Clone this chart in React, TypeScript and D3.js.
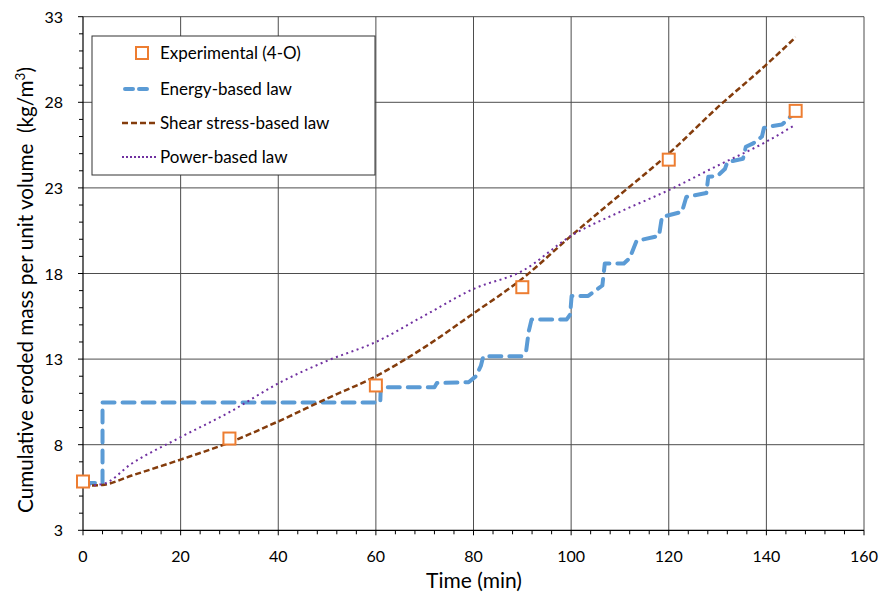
import React from "react";
import * as d3 from "d3";

const expTime = [0, 30, 60, 90, 120, 146];
const expMass = [5.85, 8.36, 11.46, 17.2, 24.65, 27.5];

const shearTime = [0, 4, 10, 20, 30, 40, 50, 60, 70, 80, 90, 100, 110, 120, 130, 140, 146];
const shearMass = [5.6, 5.65, 6.2, 7.13, 8.13, 9.36, 10.7, 12.0, 13.7, 15.67, 17.7, 20.2, 22.6, 25.0, 27.7, 30.2, 31.8];

const powerTime = [0, 4, 10, 20, 30, 40, 50, 60, 70, 80, 90, 100, 110, 120, 130, 140, 146];
const powerMass = [5.6, 5.7, 6.9, 8.44, 9.9, 11.58, 12.9, 14.0, 15.55, 17.1, 18.15, 20.2, 21.6, 22.87, 24.3, 25.7, 26.7];

const energyTime = [0, 4, 4, 60.9, 61, 72, 72.5, 79, 80.5, 81.5, 82, 89.9, 90.8, 91.3, 91.9, 99.1, 99.8, 100.1, 103.5, 104.5, 106.4, 106.9, 110.8, 112, 113.4, 118, 118.6, 122.7, 123.6, 127.7, 128.1, 130, 131.5, 132, 135.2, 135.8, 137.3, 139.1, 139.5, 140.8, 143.2, 145.5];
const energyMass = [5.77, 5.77, 10.47, 10.47, 11.36, 11.36, 11.6, 11.65, 12.0, 12.6, 13.16, 13.16, 13.5, 14.6, 15.32, 15.32, 15.6, 16.69, 16.69, 16.9, 17.3, 18.58, 18.58, 18.9, 19.9, 20.2, 21.3, 21.6, 22.47, 22.7, 23.65, 23.7, 24.1, 24.5, 24.7, 25.4, 25.6, 26.0, 26.5, 26.6, 26.7, 27.3];

const xTicks = [0, 20, 40, 60, 80, 100, 120, 140, 160];
const yTicks = [3, 8, 13, 18, 23, 28, 33];

const legendLabels = ["Experimental (4-O)", "Energy-based law", "Shear stress-based law", "Power-based law"];

const FONT = "Lato, 'Liberation Sans', sans-serif";

export default function App() {
  const W = 882, H = 599;
  const left = 83, right = 864, top = 16.7, bottom = 530.3;
  const x = d3.scaleLinear().domain([0, 160]).range([left, right]);
  const y = d3.scaleLinear().domain([3, 33]).range([bottom, top]);

  const line = d3.line<[number, number]>().x(d => x(d[0])).y(d => y(d[1]));
  const curve = d3.line<[number, number]>().x(d => x(d[0])).y(d => y(d[1])).curve(d3.curveMonotoneX);

  const shear = shearTime.map((t, i) => [t, shearMass[i]] as [number, number]);
  const power = powerTime.map((t, i) => [t, powerMass[i]] as [number, number]);
  const energy = energyTime.map((t, i) => [t, energyMass[i]] as [number, number]);

  const xMinor = d3.range(0, 161, 4);
  const yMinor = d3.range(3, 33.01, 1);

  const blue = "#5B9BD5", brown = "#843C0C", purple = "#7030A0", orange = "#ED7D31";
  const grid = "#4d4d4d";

  const legX = 92, legY = 36, legW = 283, legH = 139;
  const rows = [53, 89, 123, 157];

  return (
    <svg width={W} height={H} style={{ position: "absolute", left: 0, top: 0, background: "#fff" }} fontFamily={FONT}>
      <rect x={0} y={0} width={W} height={H} fill="#fff" />
      {/* grid */}
      {xTicks.slice(1).map(t => (
        <line key={"gx" + t} x1={x(t)} x2={x(t)} y1={top} y2={bottom} stroke={grid} strokeWidth={1} />
      ))}
      {yTicks.slice(1).map(t => (
        <line key={"gy" + t} x1={left} x2={right} y1={y(t)} y2={y(t)} stroke={grid} strokeWidth={1} />
      ))}
      {/* axes */}
      <line x1={left} x2={right} y1={bottom} y2={bottom} stroke="#000" strokeWidth={1.2} />
      <line x1={left} x2={left} y1={top} y2={bottom} stroke="#000" strokeWidth={1.2} />
      {xMinor.map(t => (
        <line key={"xm" + t} x1={x(t)} x2={x(t)} y1={bottom} y2={bottom + (t % 20 === 0 ? 5 : 4)} stroke="#000" strokeWidth={1} />
      ))}
      {yMinor.map(t => (
        <line key={"ym" + t} x1={left - ((t - 3) % 5 === 0 ? 5 : 4)} x2={left} y1={y(t)} y2={y(t)} stroke="#000" strokeWidth={1} />
      ))}
      {xTicks.map(t => (
        <text key={"xt" + t} x={x(t)} y={562} textAnchor="middle" fontSize={16} fill="#000">{t}</text>
      ))}
      {yTicks.map(t => (
        <text key={"yt" + t} x={63} y={y(t) + 6} textAnchor="end" fontSize={16} fill="#000">{t}</text>
      ))}
      <text x={474} y={588} textAnchor="middle" fontSize={21} fill="#000">Time (min)</text>
      <text transform={`translate(33,${290}) rotate(-90)`} textAnchor="middle" fontSize={20.7} fill="#000" xmlSpace="preserve" style={{ whiteSpace: "pre" }}>
        {"Cumulative eroded mass per unit volume  (kg/m"}<tspan dy={-8} fontSize={13.5}>3</tspan><tspan dy={8}>)</tspan>
      </text>

      {/* series */}
      <path d={line(energy) || ""} fill="none" stroke={blue} strokeWidth={4} strokeDasharray="12 8" strokeLinecap="round" strokeLinejoin="round" />
      <path d={curve(shear) || ""} fill="none" stroke={brown} strokeWidth={2.5} strokeDasharray="6 3" />
      <path d={curve(power) || ""} fill="none" stroke={purple} strokeWidth={2} strokeDasharray="2 3.5" />
      {expTime.map((t, i) => (
        <rect key={"e" + i} x={x(t) - 6} y={y(expMass[i]) - 6} width={12} height={12} fill="#fff" stroke={orange} strokeWidth={2} />
      ))}

      {/* legend */}
      <rect x={legX} y={legY} width={legW} height={legH} fill="#fff" stroke="#333" strokeWidth={1} />
      <rect x={136} y={rows[0] - 6} width={12} height={12} fill="#fff" stroke={orange} strokeWidth={2} />
      <line x1={125} x2={153} y1={rows[1]} y2={rows[1]} stroke={blue} strokeWidth={4} strokeDasharray="8 6" strokeLinecap="round" />
      <line x1={122} x2={157} y1={rows[2]} y2={rows[2]} stroke={brown} strokeWidth={2.5} strokeDasharray="6 3" />
      <line x1={122} x2={157} y1={rows[3]} y2={rows[3]} stroke={purple} strokeWidth={2} strokeDasharray="2 2" />
      {legendLabels.map((l, i) => (
        <text key={l} x={160} y={rows[i] + 6} fontSize={17} fill="#000">{l}</text>
      ))}
    </svg>
  );
}
